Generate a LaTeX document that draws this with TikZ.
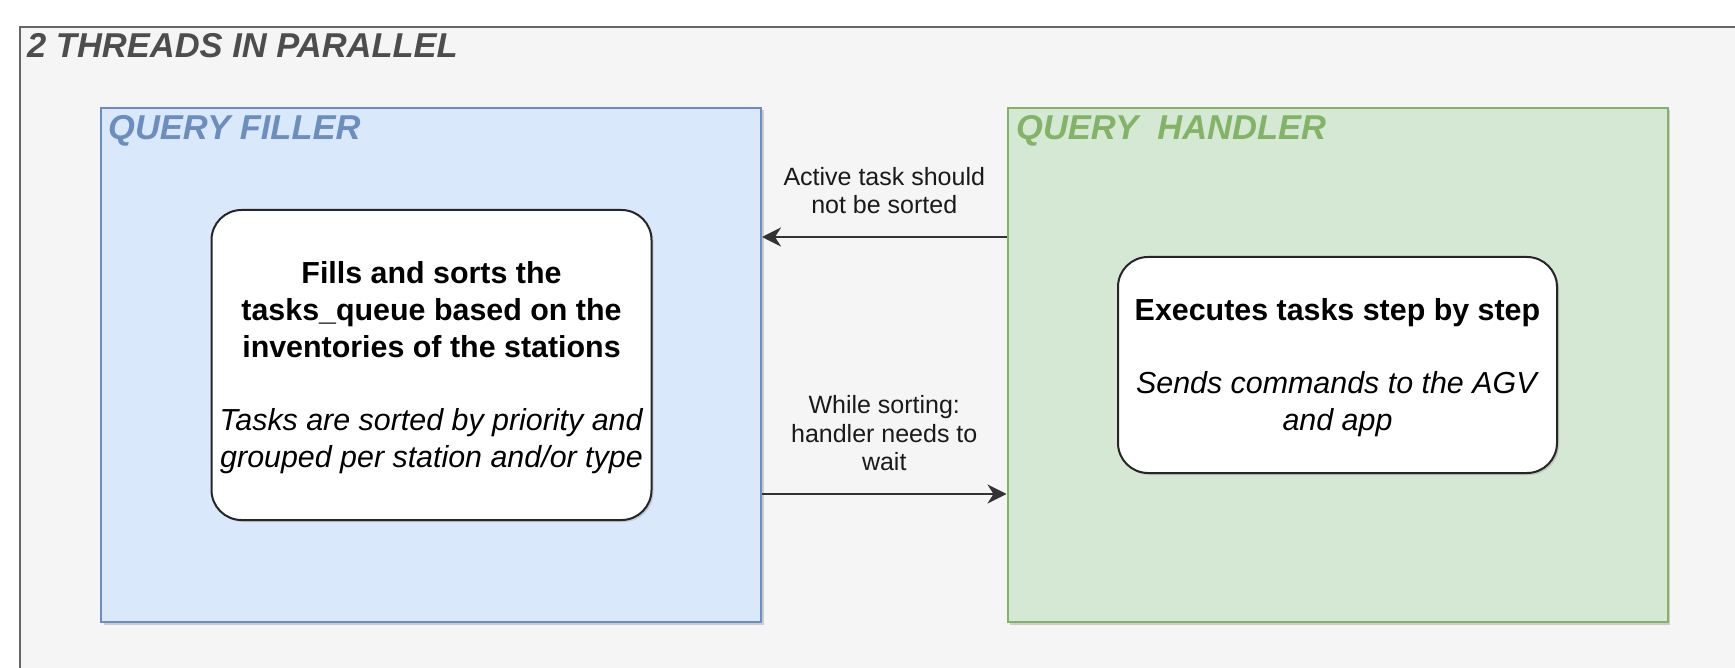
\documentclass[tikz,border=0pt]{standalone}
\usepackage{fontspec}
\setmainfont{Liberation Sans}
\usetikzlibrary{arrows.meta,shadows}

\definecolor{framefill}{HTML}{F5F5F5}
\definecolor{framedraw}{HTML}{666666}
\definecolor{titlegray}{HTML}{4D4D4D}
\definecolor{bluefill}{HTML}{DAE8FC}
\definecolor{bluedraw}{HTML}{6C8EBF}
\definecolor{greenfill}{HTML}{D5E8D4}
\definecolor{greendraw}{HTML}{82B366}
\definecolor{inkdark}{HTML}{1A1A1A}

% fixed line struts so every text block has a predictable height
\newcommand\cardstrut{\rule[-8pt]{0pt}{36.7pt}}
\newcommand\tagstrut{\rule[-7pt]{0pt}{28.5pt}}

\begin{document}
\begin{tikzpicture}[x=1pt,y=-1pt,
  frame/.style={draw=framedraw, fill=framefill, line width=2pt, inner sep=0pt},
  heading/.style={inner sep=0pt, font=\fontsize{34.5}{40}\selectfont\bfseries\itshape},
  lane/.style={line width=2pt, inner sep=0pt, minimum width=660pt, minimum height=514pt,
    drop shadow={shadow xshift=2.5pt, shadow yshift=-2.5pt, opacity=.35, fill=black!50}},
  card/.style={draw=black!85, fill=white, line width=2pt, rounded corners=30pt,
    align=center, inner sep=0pt, text=black,
    font=\fontsize{30.4}{36.7}\selectfont,
    drop shadow={shadow xshift=2pt, shadow yshift=-2pt, opacity=.3, fill=black!50}},
  flow/.style={draw=black!80, line width=2.2pt, -{Stealth[length=19pt,width=19pt,inset=6pt]}},
  tag/.style={midway, above=15pt, inner sep=0pt, align=center, text=inkdark,
    font=\fontsize{25}{28.5}\selectfont}
]
\useasboundingbox (0,0) rectangle (1735,668);
\clip (0,0) rectangle (1735,668);

% container for both threads (runs past the right and bottom edges)
\node[frame, anchor=north west, minimum width=1760pt, minimum height=690pt] (threads) at (18.5,26) {};
\node[heading, text=titlegray, anchor=base west] (threadsTitle) at (27,58) {2 THREADS IN PARALLEL};

% the two thread lanes
\node[lane, draw=bluedraw, fill=bluefill] (filler) at (431,365) {};
\node[heading, text=bluedraw, anchor=base west] (fillerTitle) at (108,140) {QUERY FILLER};

\node[lane, draw=greendraw, fill=greenfill] (handler) at (1337.5,365) {};
\node[heading, text=greendraw, anchor=base west] (handlerTitle) at (1016,140) {QUERY\ \ HANDLER};

% what each thread does
\node[card, minimum width=440pt, minimum height=310pt] (fillTask) at (431.5,365) {%
  \cardstrut\textbf{Fills and sorts the}\\
  \textbf{tasks\_queue based on the}\\
  \textbf{inventories of the stations}\\
  \cardstrut\\
  \textit{Tasks are sorted by priority and}\\
  \textit{grouped per station and/or type}\cardstrut};

\node[card, minimum width=439pt, minimum height=216pt] (execTask) at (1337.5,365) {%
  \cardstrut\textbf{Executes tasks step by step}\\
  \cardstrut\\
  \textit{Sends commands to the AGV}\\
  \textit{and app}\cardstrut};

% synchronisation between the threads
\draw[flow] ([yshift=128pt]handler.west) -- node[tag] {\tagstrut Active task should\\ not be sorted\tagstrut} ([yshift=128pt]filler.east);
\draw[flow] ([yshift=-129pt]filler.east) -- node[tag] {\tagstrut While sorting:\\ handler needs to\\ wait\tagstrut} ([yshift=-129pt]handler.west);
\end{tikzpicture}
\end{document}
